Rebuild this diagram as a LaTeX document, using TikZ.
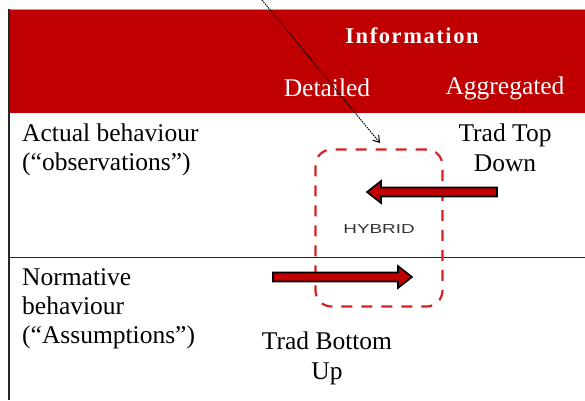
\documentclass[tikz,border=0pt]{standalone}
\usepackage{fontspec}
\setmainfont{Liberation Serif}
\newfontfamily\hybfont{Liberation Sans}
\usetikzlibrary{arrows.meta,calc}
\definecolor{hdr}{HTML}{C00000}
\definecolor{dash}{HTML}{D42222}
\tikzset{
  celltext/.style={font=\fontsize{25.5}{29}\selectfont, text=black, inner sep=0pt, align=left},
  ctrtext/.style={font=\fontsize{25.5}{30}\selectfont, text=black, inner sep=0pt, align=center},
  hdrtext/.style={font=\fontsize{25.5}{29}\selectfont, text=white, inner sep=0pt},
  bigarrow/.style={draw=black, line width=1.6pt, fill=hdr, line join=miter},
}
\begin{document}
\begin{tikzpicture}[x=1pt,y=-1pt]
\useasboundingbox (0,0) rectangle (585,400);
% header
\fill[hdr] (9,10) rectangle (585,113);
\draw[gray!70, line width=1.2pt] (8,9.5) -- (585,9.5);
\draw[black!85, line width=1.8pt] (9,9) -- (9,400);
\draw[black!85, line width=1.3pt] (9,257.5) -- (585,257.5);
% header texts
\node[hdrtext, font=\fontsize{22.5}{26}\selectfont\bfseries\addfontfeature{LetterSpace=7}] (info) at (412,36) {Information};
\node[hdrtext] (det) at (327,88) {Detailed};
\node[hdrtext] (agg) at (505,88) {Aggregated};
% row texts
\node[celltext, anchor=north west] (act) at (22,124) {Actual behaviour\\(“observations”)};
\node[celltext, anchor=north west] (norm) at (22,268) {Normative\\behaviour\\(“Assumptions”)};
\node[ctrtext, anchor=north] (ttd) at (505,124) {Trad Top\\Down};
\node[ctrtext, anchor=north] (tbu) at (327,332) {Trad Bottom\\Up};
% hybrid box
\node[draw=dash, line width=2.2pt, dash pattern=on 11pt off 9pt, rounded corners=16pt,
      minimum width=127pt, minimum height=157pt, inner sep=0pt] (hyb) at (379,228) {};
\node[font=\hybfont\fontsize{13}{15}\selectfont, text=black!80, inner sep=0pt] (hyblbl) at (379,229) {\scalebox{1.45}[1]{HYBRID}};
% left arrow (top down)
\coordinate (ltail) at (497,192);
\coordinate (ltip) at (367,192);
\draw[bigarrow] ($(ltail)+(0,-4.5)$) -- (381,187.5) -- (381,181) -- (ltip) -- (381,203) -- (381,196.5) -- ($(ltail)+(0,4.5)$) -- cycle;
% right arrow (bottom up)
\coordinate (rtail) at (273,277);
\coordinate (rtip) at (412,277);
\draw[bigarrow] ($(rtail)+(0,-4.5)$) -- (398,272.5) -- (398,266) -- (rtip) -- (398,288) -- (398,281.5) -- ($(rtail)+(0,4.5)$) -- cycle;
% pointer
\coordinate (pstart) at (257,-6);
\coordinate (pend) at (380,143);
\draw[black, line width=1pt, dash pattern=on 1.5pt off 1pt, -{Straight Barb[length=6pt,width=8pt,line width=1pt]}] (pstart) -- (pend);
\end{tikzpicture}
\end{document}
